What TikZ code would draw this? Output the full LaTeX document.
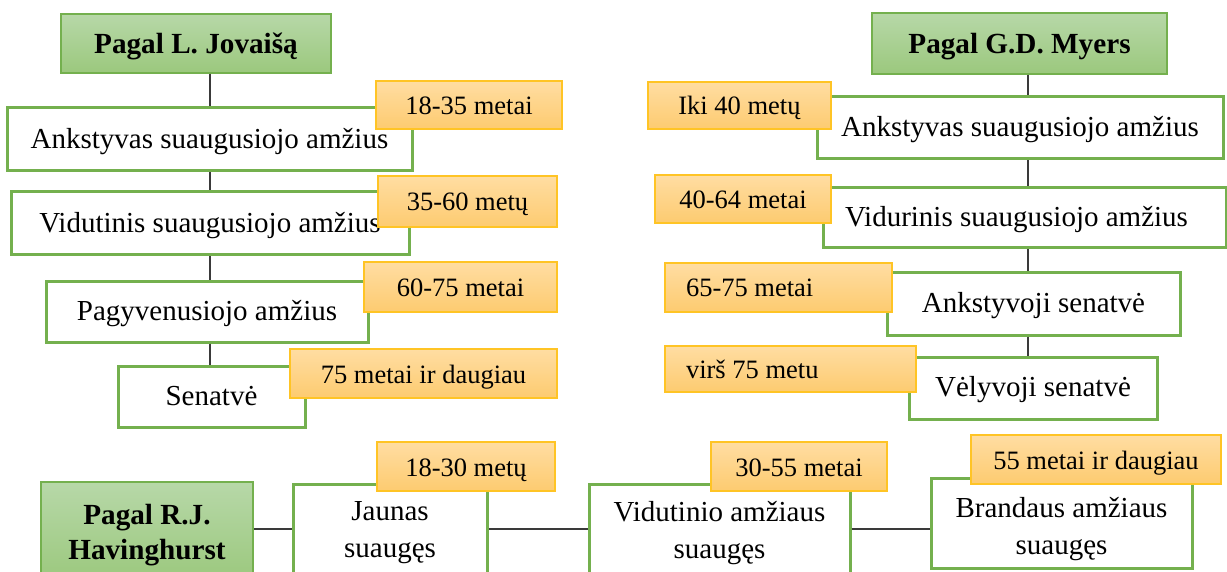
\documentclass[tikz,border=0pt]{standalone}
\usepackage{fontspec}
\setmainfont{Liberation Serif}
\definecolor{boxline}{HTML}{74B04E}
\definecolor{hdrtop}{HTML}{B7D8A8}
\definecolor{hdrbot}{HTML}{9BC87D}
\definecolor{tagline}{HTML}{FFC425}
\definecolor{tagtop}{HTML}{FFDDA2}
\definecolor{tagbot}{HTML}{FDCB70}
\definecolor{wire}{HTML}{3A3A3A}
\tikzset{
  hdr/.style={draw=boxline, line width=1.5pt, top color=hdrtop, bottom color=hdrbot,
    font=\bfseries\fontsize{29.2}{35}\selectfont, align=center, inner sep=0pt,
    text height=26.5pt, text depth=6pt},
  stage/.style={draw=boxline, line width=3pt, fill=white,
    font=\fontsize{29}{37}\selectfont, align=center, inner sep=0pt,
    text height=24pt, text depth=6.3pt},
  tag/.style={draw=tagline, line width=1.5pt, top color=tagtop, bottom color=tagbot,
    font=\fontsize{26.5}{32}\selectfont, inner sep=0pt,
    text height=24pt, text depth=5pt},
  % boxes holding two lines of text set their text as a centred label
  twohdr/.style={draw=boxline, line width=1.5pt, top color=hdrtop, bottom color=hdrbot, inner sep=0pt},
  twostage/.style={draw=boxline, line width=3pt, fill=white, inner sep=0pt},
  hdrtext/.style={font=\bfseries\fontsize{29.2}{35}\selectfont, align=center, inner sep=0pt},
  stagetext/.style={font=\fontsize{29}{37}\selectfont, align=center, inner sep=0pt},
  wiring/.style={draw=wire, line width=1.4pt}
}
\begin{document}
\begin{tikzpicture}[x=1pt, y=-1pt]
\clip (0,0) rectangle (1227,572);
\fill[white] (0,0) rectangle (1227,572);

% left column: L. Jovaiša
\node[hdr, minimum width=270, minimum height=59] (h1) at (196,43.5) {Pagal L. Jovaišą};
\node[stage, minimum width=405, minimum height=63] (b1) at (209.5,139.5) {Ankstyvas suaugusiojo amžius};
\node[stage, minimum width=398, minimum height=63] (b2) at (210,223.5) {Vidutinis suaugusiojo amžius};
\node[stage, minimum width=322, minimum height=60] (b3) at (207,312) {Pagyvenusiojo amžius};
\node[stage, minimum width=187, minimum height=61] (b4) at (211.5,396.5) {Senatvė};
\coordinate (ls) at (210,0);
\draw[wiring] (h1.south -| ls) -- (b1.north -| ls);
\draw[wiring] (b1.south -| ls) -- (b2.north -| ls);
\draw[wiring] (b2.south -| ls) -- (b3.north -| ls);
\draw[wiring] (b3.south -| ls) -- (b4.north -| ls);
\node[tag, minimum width=186, minimum height=48] (o1) at (469,105) {18-35 metai};
\node[tag, minimum width=179, minimum height=51] (o2) at (467.5,201.5) {35-60 metų};
\node[tag, minimum width=193, minimum height=50] (o3) at (460.5,287) {60-75 metai};
\node[tag, minimum width=267, minimum height=49] (o4) at (423.5,373.5) {75 metai ir daugiau};

% right column: G.D. Myers
\node[hdr, minimum width=295, minimum height=61] (h2) at (1019.5,43.5) {Pagal G.D. Myers};
\node[stage, minimum width=406, minimum height=62] (r1) at (1020,128) {Ankstyvas suaugusiojo amžius};
\node[stage, minimum width=403, minimum height=60, text width=359, align=flush left] (r2) at (1024.5,218) {Vidurinis suaugusiojo amžius};
\node[stage, minimum width=293, minimum height=62] (r3) at (1033.5,304) {Ankstyvoji senatvė};
\node[stage, minimum width=248, minimum height=62] (r4) at (1033,388) {Vėlyvoji senatvė};
\coordinate (rs) at (1028,0);
\draw[wiring] (h2.south -| rs) -- (r1.north -| rs);
\draw[wiring] (r1.south -| rs) -- (r2.north -| rs);
\draw[wiring] (r2.south -| rs) -- (r3.north -| rs);
\draw[wiring] (r3.south -| rs) -- (r4.north -| rs);
\node[tag, minimum width=183, minimum height=47] (q1) at (739.5,105.5) {Iki 40 metų};
\node[tag, minimum width=176, minimum height=48] (q2) at (743,199) {40-64 metai};
\node[tag, minimum height=49, text width=185, inner xsep=21, align=flush left] (q3) at (778.5,287.5) {65-75 metai};
\node[tag, minimum height=46, text width=209, inner xsep=21, align=flush left] (q4) at (790.5,369) {virš 75 metu};

% bottom row: R.J. Havinghurst
\node[twohdr, minimum width=212, minimum height=100,
  label={[hdrtext, yshift=-3pt]center:{Pagal R.J.\\Havinghurst}}] (h3) at (147,532) {};
\node[twostage, minimum width=194, minimum height=90,
  label={[stagetext, yshift=-4pt]center:{Jaunas\\suaugęs}}] (bj) at (390,529) {};
\node[twostage, minimum width=261, minimum height=90,
  label={[stagetext, yshift=-4pt]center:{Vidutinio amžiaus\\suaugęs}}] (bv) at (719.5,529) {};
\node[twostage, minimum width=261, minimum height=90,
  label={[stagetext, yshift=-6pt]center:{Brandaus amžiaus\\suaugęs}}] (bb) at (1061.5,523) {};
\draw[wiring] (bj.west -| h3.east) -- (bj.west);
\draw[wiring] (bj.east) -- (bv.west);
\draw[wiring] (bv.east) -- (bv.east -| bb.west);
\node[tag, minimum width=178, minimum height=49] (tj) at (466,466.5) {18-30 metų};
\node[tag, minimum width=176, minimum height=49] (tv) at (799,466.5) {30-55 metai};
\node[tag, minimum width=250, minimum height=49] (tb) at (1096,459.5) {55 metai ir daugiau};
\end{tikzpicture}
\end{document}
